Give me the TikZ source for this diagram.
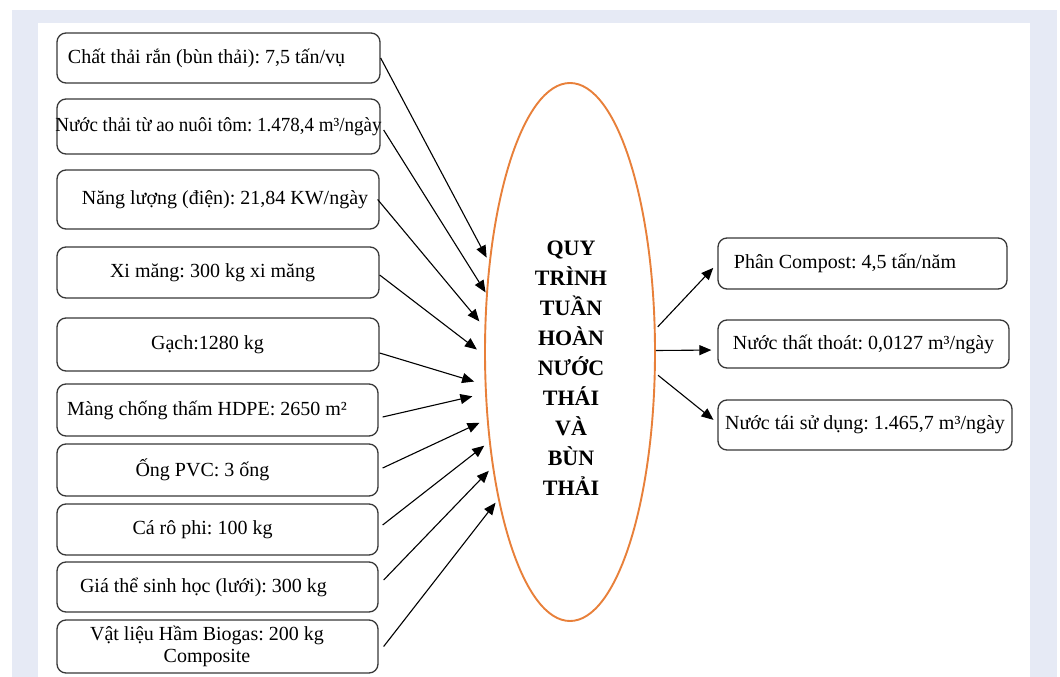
\documentclass[tikz,border=0pt]{standalone}
\usepackage{fontspec}
\usepackage{graphicx}
\setmainfont{Liberation Serif}
\usetikzlibrary{arrows.meta,shapes.geometric}
\definecolor{bandgray}{HTML}{E6EAF5}
\definecolor{boxline}{HTML}{383838}
\definecolor{ellorange}{HTML}{E8803A}
\frenchspacing
\begin{document}
\begin{tikzpicture}[x=1pt,y=-1pt,
  box/.style={draw=boxline, line width=1.3pt, rounded corners=9pt, inner sep=0pt,
    font=\fontsize{20}{22}\selectfont\frenchspacing, text=black},
  arr/.style={draw=black, line width=1.1pt, -{Triangle[length=12pt,width=10pt]}},
]
\useasboundingbox (0,0) rectangle (1060,677);
\fill[white] (0,0) rectangle (1060,677);
\fill[bandgray] (12,10) rectangle (1057,677);
\fill[white] (38,23) rectangle (1030,677);

% left input boxes
\node[box, minimum width=323pt, minimum height=50pt] (b1) at (218.5,58)
  {Chất thải rắn (bùn thải): 7,5 tấn/vụ\hspace*{24pt}};
\node[box, minimum width=323pt, minimum height=55pt] (b2) at (218.5,126.5)
  {\makebox[300pt][c]{\scalebox{0.95}[1]{Nước thải từ ao nuôi tôm: 1.478,4 m³/ngày}}};
\node[box, minimum width=322pt, minimum height=59pt] (b3) at (218,199.5)
  {\hspace*{14pt}Năng lượng (điện): 21,84 KW/ngày};
\node[box, minimum width=322pt, minimum height=51pt] (b4) at (218,272.5)
  {Xi măng: 300 kg xi măng\hspace*{11pt}};
\node[box, minimum width=322pt, minimum height=53pt] (b5) at (218,344.5)
  {Gạch:1280 kg\hspace*{21pt}};
\node[box, minimum width=321pt, minimum height=52pt] (b6) at (217.5,410)
  {Màng chống thấm HDPE: 2650 m²\hspace*{21pt}};
\node[box, minimum width=321pt, minimum height=52pt] (b7) at (217.5,470)
  {Ống PVC: 3 ống\hspace*{30pt}};
\node[box, minimum width=321pt, minimum height=51pt] (b8) at (217.5,529.5)
  {Cá rô phi: 100 kg\hspace*{30pt}};
\node[box, minimum width=321pt, minimum height=50pt] (b9) at (217.5,587)
  {Giá thể sinh học (lưới): 300 kg\hspace*{28pt}};
\node[box, minimum width=321pt, minimum height=53pt, align=center] (b10) at (217.5,646.5)
  {Vật liệu Hầm Biogas: 200 kg\hspace*{21pt}\\Composite\hspace*{21pt}};

% central ellipse
\node[draw=ellorange, line width=1.9pt, ellipse, minimum width=170pt,
  minimum height=538pt, inner sep=0pt] (ell) at (570,352) {};
\node[font=\fontsize{22}{30}\selectfont\bfseries, align=center, anchor=north,
  inner sep=0pt] (title) at (571,241)
  {QUY\\TRÌNH\\TUẦN\\HOÀN\\NƯỚC\\THÁI\\VÀ\\BÙN\\THẢI};

% right output boxes
\node[box, minimum width=289pt, minimum height=51pt] (rA) at (862.5,263.5)
  {Phân Compost: 4,5 tấn/năm\hspace*{35pt}};
\node[box, minimum width=291pt, minimum height=48pt] (rB) at (863.5,344)
  {Nước thất thoát: 0,0127 m³/ngày};
\node[box, minimum width=294pt, minimum height=50pt] (rC) at (865,425)
  {Nước tái sử dụng: 1.465,7 m³/ngày};

% input arrows
\draw[arr, shorten >=5pt] (b1.east) -- (ell.132.7);
\draw[arr, shorten >=1pt] ([yshift=-3.5pt,xshift=3pt]b2.east) -- (ell.145.5);
\draw[arr, shorten >=8pt] ([xshift=-2pt]b3.east) -- (ell.164.3);
\draw[arr, shorten >=9pt] ([yshift=-2.5pt]b4.east) -- (ell.182.4);
\draw[arr, shorten >=11pt] ([yshift=-8.5pt]b5.east) -- (ell.201.5);
\draw[arr, shorten >=13pt] ([yshift=-7pt,xshift=4pt]b6.east) -- (ell.206.7);
\draw[arr, shorten >=8pt] ([yshift=2pt,xshift=4pt]b7.east) -- (ell.219.3);
\draw[arr, shorten >=6pt] ([yshift=4.5pt,xshift=4pt]b8.east) -- (ell.228.7);
\draw[arr, shorten >=5pt] ([yshift=7pt,xshift=5pt]b9.east) -- (ell.236.7);
\draw[arr, shorten >=4pt] ([xshift=5pt]b10.east) -- (ell.244.5);

% output arrows
\draw[arr, shorten <=3pt, shorten >=6pt] (ell.15.8) -- (rA.west);
\draw[arr, shorten >=6pt] (ell.1.35) -- ([yshift=-6pt]rB.west);
\draw[arr, shorten <=3pt, shorten >=5pt] (ell.-14.5) -- ([yshift=2pt]rC.west);
\end{tikzpicture}
\end{document}
